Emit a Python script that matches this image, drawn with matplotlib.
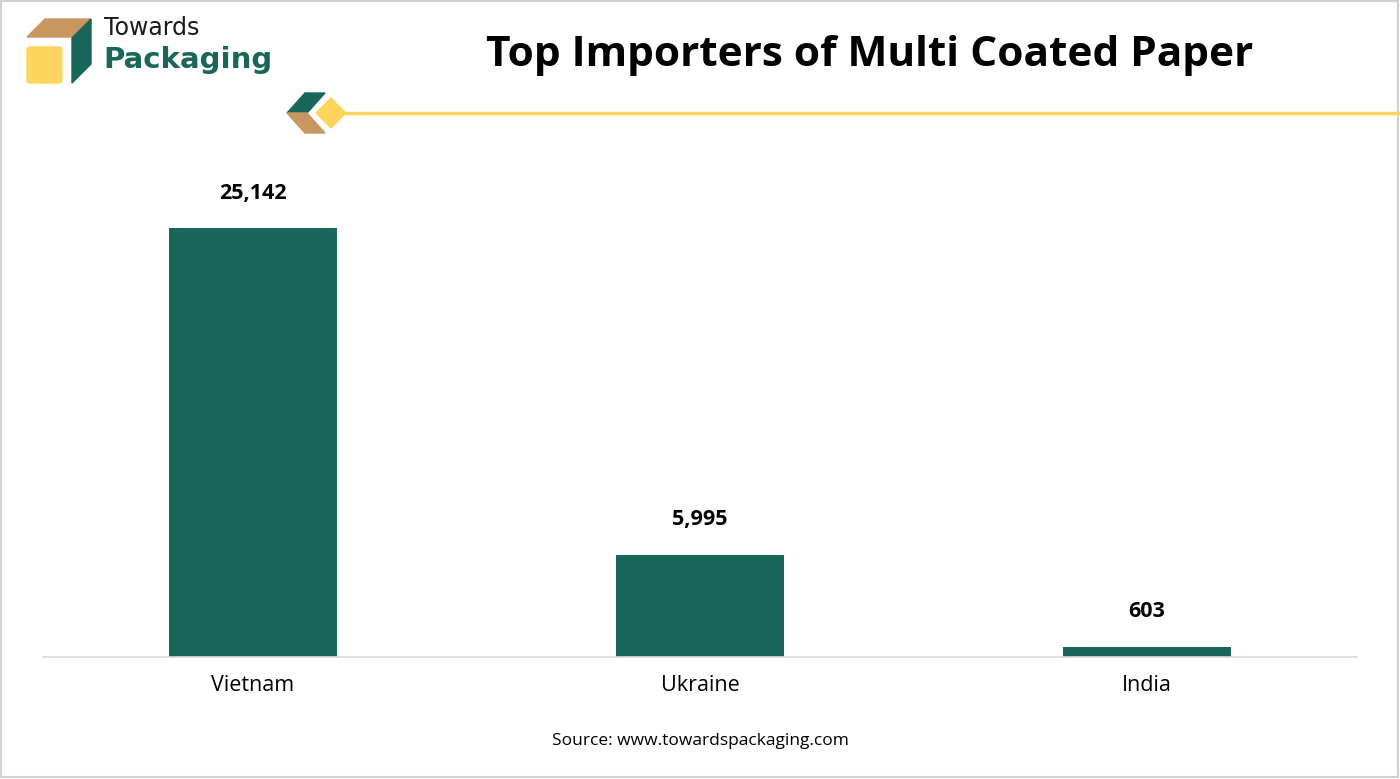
import matplotlib.pyplot as plt
from matplotlib.patches import Polygon, Rectangle, FancyBboxPatch

countries = ["Vietnam", "Ukraine", "India"]
imports = [25142, 5995, 603]
value_labels = ["25,142", "5,995", "603"]

GREEN = "#19665A"
YELLOW = "#FDD55C"
TAN = "#C8965F"

fig = plt.figure(figsize=(14, 7.79), dpi=100)

# decoration layer in pixel coords
deco = fig.add_axes([0, 0, 1, 1])
deco.set_xlim(0, 1400)
deco.set_ylim(779, 0)
deco.axis("off")

# logo box
deco.add_patch(Polygon([(27, 37), (45, 19), (91, 19), (72, 37)], closed=True, color=TAN))
deco.add_patch(Polygon([(72, 38), (91, 19), (91, 64), (72, 83)], closed=True, color=GREEN))
deco.add_patch(FancyBboxPatch((27, 47), 35, 36, boxstyle="round,pad=0,rounding_size=3", color=YELLOW))
deco.text(104, 28, "Towards", fontsize=17, color="#1a1a1a", va="center", ha="left")
deco.text(103, 60, "Packaging", fontsize=21, color=GREEN, fontweight="bold", va="center", ha="left")

# chevron + diamond + line under title
deco.add_patch(Polygon([(287, 113), (305, 93), (325, 93), (307, 113)], closed=True, color=GREEN))
deco.add_patch(Polygon([(287, 113), (307, 113), (325, 133), (305, 133)], closed=True, color=TAN))
deco.add_patch(Polygon([(316, 113), (331, 98), (346, 113), (331, 128)], closed=True, color=YELLOW))
deco.plot([345, 1400], [113, 113], color=YELLOW, lw=2.5, solid_capstyle="butt")

# thin outer border
deco.add_patch(Rectangle((1, 1), 1397, 776, fill=False, ec="#D0D0D0", lw=1.5))

deco.text(870, 55, "Top Importers of Multi Coated Paper", fontsize=30.5, fontweight="bold",
          ha="center", va="center", family="Open Sans")

# main chart
ax = fig.add_axes([43 / 1400, (779 - 657) / 779, 1314 / 1400, 487 / 779])
x = range(len(countries))
bars = ax.bar(x, imports, width=0.376, color=GREEN)
ax.set_xlim(-0.47, 2.47)
ax.set_ylim(0, 28541)
for b, lab in zip(bars, value_labels):
    ax.annotate(lab, (b.get_x() + b.get_width() / 2, b.get_height()), xytext=(0, 25),
                textcoords="offset points", ha="center", va="center",
                fontsize=15.5, fontweight="bold", family="Open Sans")
ax.set_xticks(list(x))
ax.set_xticklabels(countries, fontsize=15.5, family="Open Sans")
ax.tick_params(axis="x", length=0, pad=13)
ax.set_yticks([])
for s in ["top", "right", "left"]:
    ax.spines[s].set_visible(False)
ax.spines["bottom"].set_color("#D9D9D9")
ax.spines["bottom"].set_linewidth(1.2)

fig.text(700 / 1400, 1 - 741 / 779, "Source: www.towardspackaging.com", fontsize=12.5,
         ha="center", va="center", family="Open Sans")

fig.savefig("out.png", dpi=100)
